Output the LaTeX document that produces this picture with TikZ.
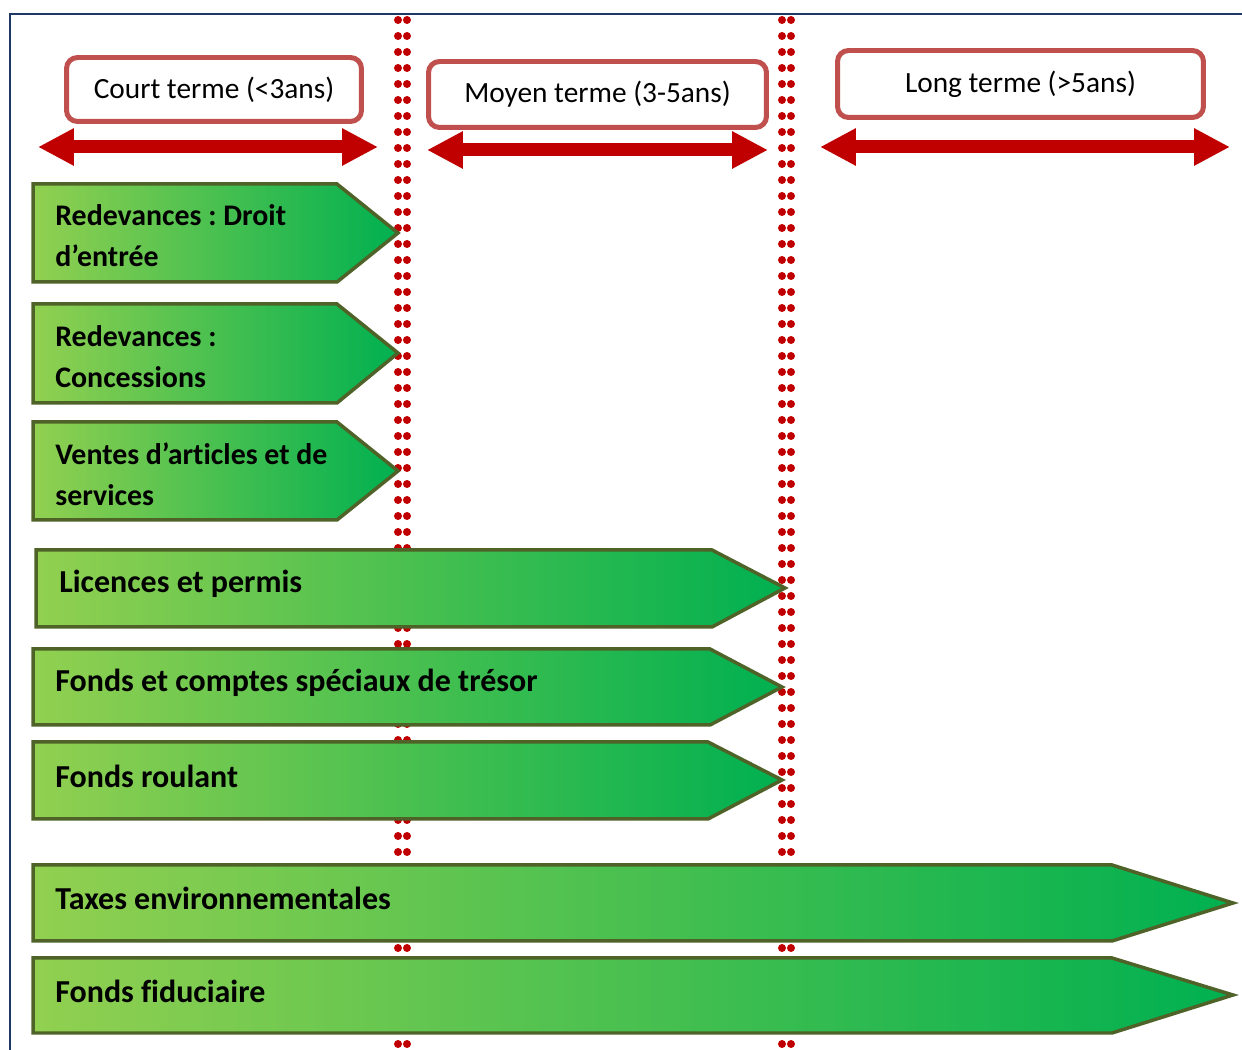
\documentclass[tikz,border=0pt]{standalone}
\usepackage{fontspec}
\setmainfont{Carlito}[Ligatures=NoCommon]
\usepackage{tikz}
\usetikzlibrary{arrows.meta}
\definecolor{lgreen}{HTML}{92D050}
\definecolor{dgreen}{HTML}{00B050}
\definecolor{olive}{HTML}{4F6228}
\definecolor{boxred}{HTML}{C0504D}
\definecolor{spanred}{HTML}{C00000}
\definecolor{navy}{HTML}{1F3864}
\frenchspacing

\begin{document}
\begin{tikzpicture}[x=0.02cm,y=-0.02cm,
  term/.style={draw=boxred,line width=0.1cm,rounded corners=0.22cm,fill=white,
    font=\fontsize{16.7}{20}\selectfont},
  span/.style={draw=spanred,line width=0.26cm,
    {Triangle[length=0.72cm,width=0.7cm]}-{Triangle[length=0.72cm,width=0.7cm]}},
  band/.style={draw=olive,line width=0.07cm,left color=lgreen,right color=dgreen},
  lbl/.style={anchor=west,inner sep=0pt,align=left,
    font=\fontsize{18.2}{23.2}\selectfont\bfseries},
  sml/.style={lbl,font=\fontsize{17}{23.2}\selectfont\bfseries},
  dot/.style={fill=spanred}]
\useasboundingbox (0,0) rectangle (1242,1050);

% frame
\draw[navy,line width=0.04cm] (10,1050) -- (10,14) -- (1242,14);

% dotted limits
\foreach \y in {20,36,...,1044} {
  \fill[dot] (398,\y) circle (0.08cm) (407,\y) circle (0.08cm);
  \fill[dot] (782,\y) circle (0.08cm) (791,\y) circle (0.08cm);
}

% terms
\node[term,minimum width=5.9cm,minimum height=1.28cm] (court) at (214,89.5) {Court terme (<3ans)};
\node[term,minimum width=6.76cm,minimum height=1.32cm] (moyen) at (597.5,94.5) {Moyen terme (3-5ans)};
\node[term,minimum width=7.32cm,minimum height=1.34cm] (long) at (1020.5,84) {Long terme (>5ans)};

\coordinate (c1) at (38,147);   \coordinate (c2) at (378,147);
\coordinate (m1) at (427,150);  \coordinate (m2) at (768,150);
\coordinate (l1) at (820,147);  \coordinate (l2) at (1230,147);
\draw[span] (c1) -- (c2);
\draw[span] (m1) -- (m2);
\draw[span] (l1) -- (l2);

% short term
\path[band] (33,184) -- (337,184) -- (398,233) -- (337,282) -- (33,282) -- cycle;
\path[band] (33,304) -- (337,304) -- (398,353) -- (337,403) -- (33,403) -- cycle;
\path[band] (33,422) -- (337,422) -- (398,471) -- (337,520) -- (33,520) -- cycle;
\node[sml] (droit) at (55,236) {Redevances : Droit\\d’entrée};
\node[sml] (conc) at (55,357) {Redevances :\\Concessions};
\node[sml] (vente) at (55,474) {Ventes d’articles et de\\services};

% medium term
\path[band] (36,550) -- (712,550) -- (785,588) -- (712,627) -- (36,627) -- cycle;
\path[band] (33,649) -- (710,649) -- (782,687) -- (710,725) -- (33,725) -- cycle;
\path[band] (33,742) -- (708,742) -- (782,780) -- (708,819) -- (33,819) -- cycle;
\node[lbl] (lic) at (59,584) {Licences et permis};
\node[lbl] (fcst) at (55,683) {Fonds et comptes spéciaux de trésor};
\node[lbl] (roul) at (55,776) {Fonds roulant};

% long term
\path[band] (33,865) -- (1112,865) -- (1233,903) -- (1112,941) -- (33,941) -- cycle;
\path[band] (33,958) -- (1112,958) -- (1233,995) -- (1112,1033) -- (33,1033) -- cycle;
\node[lbl] (taxe) at (55,898) {Taxes environnementales};
\node[lbl] (fidu) at (55,991) {Fonds fiduciaire};

\end{tikzpicture}
\end{document}
